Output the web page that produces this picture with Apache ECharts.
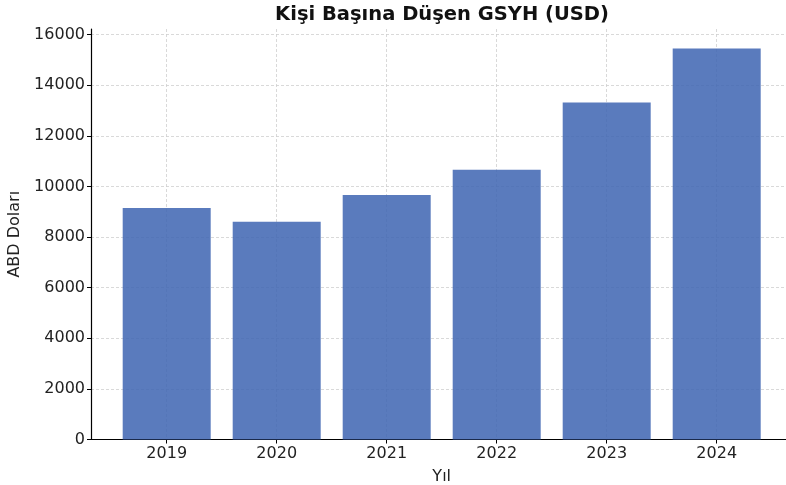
<!DOCTYPE html>
<html><head><meta charset="utf-8">
<script src="https://cdn.jsdelivr.net/npm/echarts@6/dist/echarts.min.js"></script>
<style>html,body{margin:0;padding:0;background:#fff}#c{width:786px;height:485px}</style>
</head><body><div id="c"></div>
<script>
const categories = ['2019', '2020', '2021', '2022', '2023', '2024'];
const gdpPerCapita = [9150, 8600, 9660, 10660, 13320, 15450];
const yMax = 16220;
const yInterval = 2000;

const font = 'DejaVu Sans';
const txt = '#222';
const dash = { color: '#cfcfcf', type: [3, 2], width: 0.8 };
const chart = echarts.init(document.getElementById('c'));
chart.setOption({
  animation: false,
  backgroundColor: '#fff',
  title: {
    text: 'Kişi Başına Düşen GSYH (USD)',
    left: 437, top: 0, textAlign: 'center',
    textStyle: { fontFamily: font, fontWeight: 'bold', fontSize: 19.5, color: '#111' }
  },
  grid: [
    { left: 166.7, right: 69.3, top: 29, bottom: 45.5, outerBoundsMode: 'none', containLabel: false },
    { left: 91, right: 0, top: 29, bottom: 45.5, outerBoundsMode: 'none', containLabel: false }
  ],
  xAxis: [
    {
      type: 'category', data: categories, gridIndex: 0, boundaryGap: false,
      name: 'Yıl', nameLocation: 'middle', nameGap: 29,
      nameTextStyle: { fontFamily: font, fontSize: 16, color: txt },
      axisLine: { show: false },
      axisTick: { show: true, length: 4, lineStyle: { color: '#000' } },
      axisLabel: { fontFamily: font, fontSize: 16, color: txt, margin: 6 },
      splitLine: { show: true, lineStyle: dash }
    },
    {
      type: 'value', gridIndex: 1, min: 0, max: 1,
      axisLine: { show: true, onZero: false, lineStyle: { color: '#000', width: 1.2 } },
      axisTick: { show: false }, axisLabel: { show: false }, splitLine: { show: false }
    }
  ],
  yAxis: [
    {
      type: 'value', gridIndex: 0, min: 0, max: yMax, interval: yInterval,
      axisLine: { show: false }, axisTick: { show: false }, axisLabel: { show: false }, splitLine: { show: false }
    },
    {
      type: 'value', gridIndex: 1, min: 0, max: yMax, interval: yInterval,
      name: 'ABD Doları', nameLocation: 'middle', nameGap: 64,
      nameTextStyle: { fontFamily: font, fontSize: 16, color: txt },
      axisLine: { show: true, onZero: false, lineStyle: { color: '#000', width: 1.2 } },
      axisTick: { show: true, length: 4, lineStyle: { color: '#000' } },
      axisLabel: { fontFamily: font, fontSize: 16, color: txt, margin: 6, showMaxLabel: false,
        formatter: v => (v % yInterval === 0 ? String(v) : '') },
      splitLine: { show: true, showMinLine: false, showMaxLine: false, lineStyle: dash }
    }
  ],
  series: [{
    type: 'bar', xAxisIndex: 0, yAxisIndex: 0,
    data: gdpPerCapita,
    barWidth: 88,
    clip: false,
    itemStyle: { color: '#3d64b1', opacity: 0.85 }
  }]
});
</script></body></html>
